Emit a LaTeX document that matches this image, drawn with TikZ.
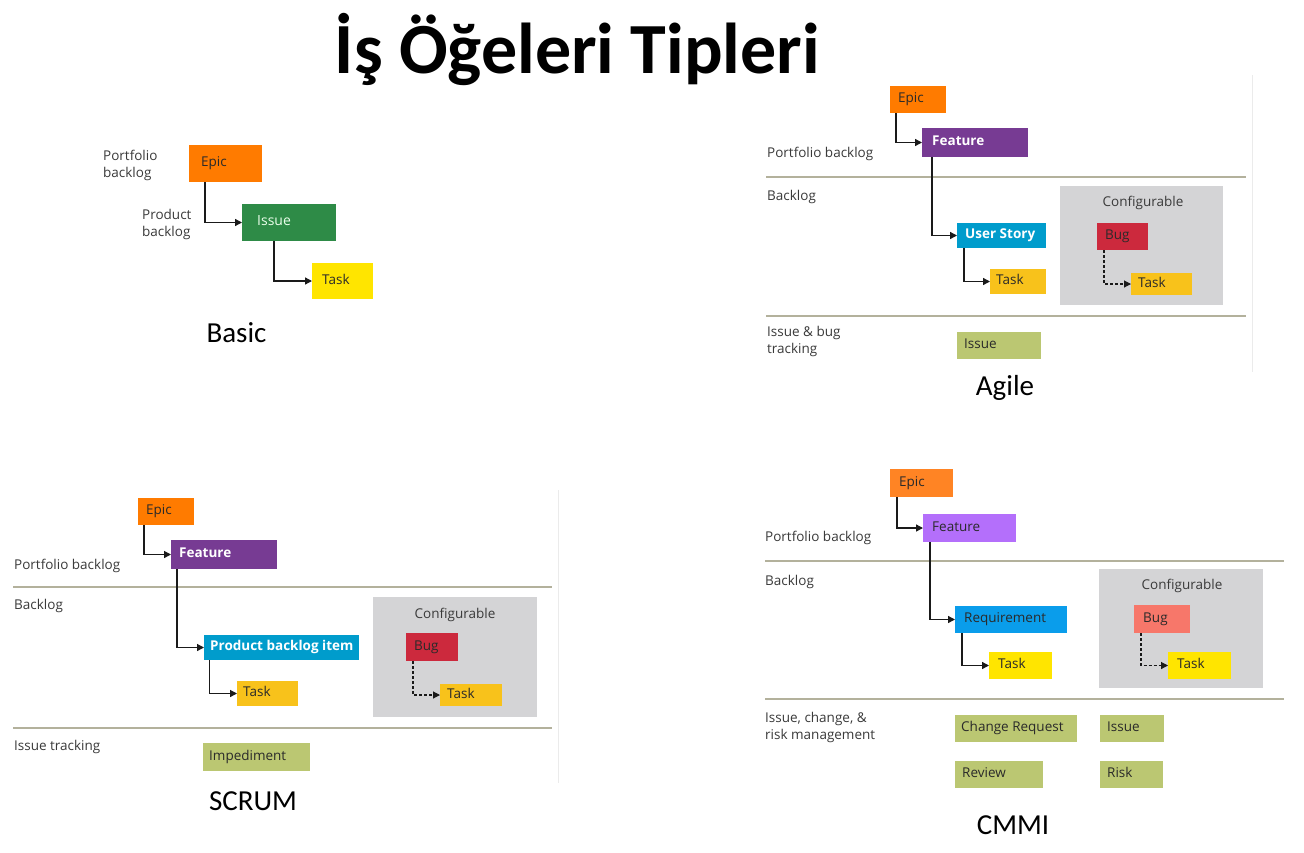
\documentclass[tikz,border=0pt]{standalone}
\usepackage{fontspec}
\setmainfont{Open Sans}
\newfontfamily\capfont{Carlito}
\usetikzlibrary{arrows.meta}

\definecolor{epicor}{HTML}{FF7B00}
\definecolor{epicorb}{HTML}{FF8424}
\definecolor{featpu}{HTML}{773B93}
\definecolor{featlv}{HTML}{B46FFB}
\definecolor{issgr}{HTML}{2E8B47}
\definecolor{taskyl}{HTML}{FFE500}
\definecolor{taskgd}{HTML}{F8C21B}
\definecolor{storybl}{HTML}{009CCC}
\definecolor{reqbl}{HTML}{0A9DEB}
\definecolor{bugrd}{HTML}{CC293D}
\definecolor{bugsm}{HTML}{F7776A}
\definecolor{olive}{HTML}{BBC772}
\definecolor{cfggray}{HTML}{D4D4D6}
\definecolor{sepline}{HTML}{B3B19C}
\definecolor{lbltext}{HTML}{3A3A3A}
\definecolor{darktext}{HTML}{2A2A2A}
\definecolor{linkcol}{HTML}{1A1A1A}

\tikzset{
  wibox/.style={rectangle, draw=none, inner sep=0pt, outer sep=0pt, anchor=north west},
  wtd/.style={text=darktext, font=\fontsize{13.5}{16}\selectfont},
  wtw/.style={text=white, font=\bfseries\fontsize{13.5}{16}\selectfont},
  wtl/.style={text=white!92!green, font=\fontsize{14}{16}\selectfont},
  witext/.style={inner sep=0pt, text height=1.45ex, text depth=0.3ex},
  lbl/.style={text=lbltext, font=\fontsize{13.5}{17}\selectfont, inner sep=0pt, align=left},
  captxt/.style={text=black, font=\capfont\fontsize{29}{34}\selectfont, inner sep=0pt, anchor=base},
  link/.style={draw=linkcol, line width=1.3pt, -{Triangle[length=7pt,width=7pt]}},
  dlink/.style={draw=linkcol, line width=1.1pt, dash pattern=on 3pt off 2pt, -{Triangle[length=7pt,width=7pt]}},
  divider/.style={draw=sepline, line width=1.5pt},
  edgeline/.style={draw=black!8, line width=1pt}
}

% work item box: name, x, y, width, height, fill, text style, text, text indent
\newcommand{\wibox}[9]{%
  \node[wibox, fill=#6, minimum width=#4pt, minimum height=#5pt] (#1) at (#2,#3) {};
  \node[witext, #7, anchor=west] (#1-t) at ([xshift=#9pt]#1.west) {#8};
}

\begin{document}
\begin{tikzpicture}[x=1pt, y=-1pt]
\useasboundingbox[fill=white] (0,0) rectangle (1304,852);

\node[anchor=base, inner sep=0pt, font=\capfont\bfseries\fontsize{72}{80}\selectfont] (title) at (577.5,73) {İş Öğeleri Tipleri};

% ---------------- Basic ----------------
\wibox{bE}{189}{145}{73}{37}{epicor}{wtd}{Epic}{12}
\wibox{bI}{242}{204}{94}{37}{issgr}{wtl}{Issue}{15}
\wibox{bT}{312}{263}{61}{36}{taskyl}{wtd}{Task}{10}
\draw[link] ([xshift=16pt]bE.south west) |- (bI.west);
\draw[link] ([xshift=32pt]bI.south west) |- (bT.west);
\node[lbl, anchor=west] (bPL) at (103,165) {Portfolio\\backlog};
\node[lbl, anchor=west] (bPR) at (142,224) {Product\\backlog};
\node[captxt] (capB) at (236.5,342) {Basic};

% ---------------- Agile ----------------
\draw[edgeline] (1252,75) -- (1252,372);
\wibox{aE}{890}{86}{56}{27}{epicor}{wtd}{Epic}{8}
\wibox{aF}{922}{128}{106}{29}{featpu}{wtw}{Feature}{10}
\draw[link] ([xshift=6pt]aE.south west) |- (aF.west);
\node[lbl, anchor=west] (aPL) at (767,154) {Portfolio backlog};
\draw[divider] (766,177) -- (1246,177);
\node[lbl, anchor=west] (aBL) at (767,197) {Backlog};
\wibox{aC}{1060}{186}{163}{119}{cfggray}{wtd}{}{0}
\node[lbl] (aCt) at (1143,203) {Configurable};
\wibox{aB}{1097}{223}{51}{27}{bugrd}{wtd}{Bug}{8}
\wibox{aBT}{1131}{273}{61}{22}{taskgd}{wtd}{Task}{7}
\draw[dlink] ([xshift=7pt]aB.south west) |- (aBT.west);
\wibox{aU}{957}{223}{89}{25}{storybl}{wtw}{User Story}{8}
\draw[link] ([xshift=10pt]aF.south west) |- (aU.west);
\wibox{aT}{990}{269}{56}{25}{taskgd}{wtd}{Task}{6}
\draw[link] ([xshift=7pt]aU.south west) |- (aT.west);
\draw[divider] (766,316) -- (1246,316);
\node[lbl, anchor=west] (aIL) at (767,341) {Issue \& bug\\tracking};
\wibox{aI}{957}{332}{84}{27}{olive}{wtd}{Issue}{7}
\node[captxt] (capA) at (1005,395) {Agile};

% ---------------- SCRUM ----------------
\draw[edgeline] (558,490) -- (558,783);
\wibox{sE}{138}{498}{56}{27}{epicor}{wtd}{Epic}{8}
\wibox{sF}{171}{540}{106}{29}{featpu}{wtw}{Feature}{8}
\draw[link] ([xshift=6pt]sE.south west) |- (sF.west);
\node[lbl, anchor=west] (sPL) at (14,566) {Portfolio backlog};
\draw[divider] (13,587) -- (552,587);
\node[lbl, anchor=west] (sBL) at (14,606) {Backlog};
\wibox{sC}{373}{597}{164}{120}{cfggray}{wtd}{}{0}
\node[lbl] (sCt) at (455,615) {Configurable};
\wibox{sB}{406}{633}{52}{28}{bugrd}{wtd}{Bug}{8}
\wibox{sBT}{440}{684}{62}{22}{taskgd}{wtd}{Task}{7}
\draw[dlink] ([xshift=7pt]sB.south west) |- (sBT.west);
\wibox{sP}{204}{635}{155}{25}{storybl}{wtw}{Product backlog item}{6}
\draw[link] ([xshift=6pt]sF.south west) |- (sP.west);
\wibox{sT}{237}{681}{61}{25}{taskgd}{wtd}{Task}{6}
\draw[link] ([xshift=5.5pt]sP.south west) |- (sT.west);
\draw[divider] (13,728) -- (552,728);
\node[lbl, anchor=west] (sIL) at (14,747) {Issue tracking};
\wibox{sI}{203}{743}{107}{28}{olive}{wtd}{Impediment}{6}
\node[captxt] (capS) at (253,810) {SCRUM};

% ---------------- CMMI ----------------
\wibox{cE}{890}{469}{63}{28}{epicorb}{wtd}{Epic}{9}
\wibox{cF}{923}{514}{93}{28}{featlv}{wtd}{Feature}{9}
\draw[link] ([xshift=7pt]cE.south west) |- (cF.west);
\node[lbl, anchor=west] (cPL) at (765,538) {Portfolio backlog};
\draw[divider] (765,561) -- (1284,561);
\node[lbl, anchor=west] (cBL) at (765,582) {Backlog};
\wibox{cC}{1099}{569}{164}{119}{cfggray}{wtd}{}{0}
\node[lbl] (cCt) at (1182,586) {Configurable};
\wibox{cB}{1134}{605}{56}{28}{bugsm}{wtd}{Bug}{9}
\wibox{cBT}{1168}{652}{63}{27}{taskyl}{wtd}{Task}{9}
\draw[dlink] ([xshift=7pt]cB.south west) |- (cBT.west);
\wibox{cR}{955}{606}{112}{27}{reqbl}{wtd}{Requirement}{9}
\draw[link] ([xshift=7pt]cF.south west) |- (cR.west);
\wibox{cT}{989}{652}{63}{27}{taskyl}{wtd}{Task}{9}
\draw[link] ([xshift=7pt]cR.south west) |- (cT.west);
\draw[divider] (765,699) -- (1284,699);
\node[lbl, anchor=west] (cIL) at (765,727) {Issue, change, \&\\risk management};
\wibox{cCR}{955}{715}{122}{27}{olive}{wtd}{Change Request}{6}
\wibox{cI}{1100}{715}{64}{27}{olive}{wtd}{Issue}{7}
\wibox{cRv}{955}{761}{88}{27}{olive}{wtd}{Review}{7}
\wibox{cRk}{1100}{761}{63}{27}{olive}{wtd}{Risk}{7}
\node[captxt] (capC) at (1013,834) {CMMI};
\end{tikzpicture}
\end{document}
